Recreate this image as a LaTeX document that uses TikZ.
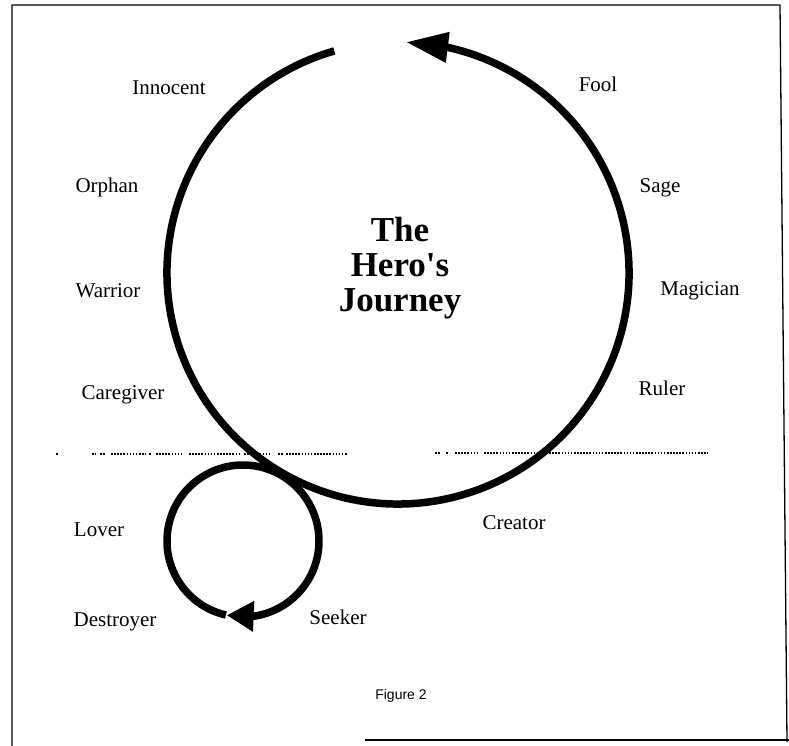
\documentclass[tikz,border=0pt]{standalone}
\usepackage{fontspec}
\setmainfont{Liberation Serif}
\newfontfamily\capfont{Liberation Sans}
\newfontfamily\titlefont{Liberation Serif}
\usetikzlibrary{arrows.meta,bending}
\begin{document}
\begin{tikzpicture}[x=1pt,y=1pt,
  loopline/.style={line width=7.5pt},
  lbl/.style={font=\fontsize{21}{24}\selectfont, inner sep=0pt, anchor=base},
  frameline/.style={line width=1.3pt},
  dotline/.style={line width=1.6pt, dash pattern=on 1.6pt off 1.5pt}]
\useasboundingbox (0,0) rectangle (789,746);
% frame
\draw[frameline] (12,0) -- (12,741) -- (780,741) -- (787,4);
\draw[frameline] (365,6) -- (789,6);
% dotted divider
\draw[dotline] (56,292) -- (58,292);
\foreach \a/\b in {92/96,100/106,111/146,149/152,156/181,189/240,244/270,278/283,286/348}
  \draw[dotline] (\a,292) -- (\b,292);
\foreach \a/\b in {435/441,446/449,455/478,484/708}
  \draw[dotline] (\a,293) -- (\b,293);
% circles
\coordinate (bigC) at (398,473);
\coordinate (smallC) at (243,205);
\draw[loopline, -{Triangle[length=42pt,width=29pt,flex]}]
  ([shift={(106:231)}]bigC) arc[start angle=106, end angle=448, radius=231];
\draw[loopline, -{Triangle[length=27pt,width=29pt,flex]}]
  ([shift={(617:76)}]smallC) arc[start angle=617, end angle=257.6, radius=76];
% title
\node[font=\titlefont\bfseries\fontsize{35}{35}\selectfont, align=center, inner sep=0pt] (title) at (400,478) {The\\Hero's\\Journey};
% labels
\node[lbl] (innocent) at (169,651) {Innocent};
\node[lbl] (fool) at (598,654) {Fool};
\node[lbl] (orphan) at (107,553) {Orphan};
\node[lbl] (sage) at (660,553) {Sage};
\node[lbl] (warrior) at (108,448) {Warrior};
\node[lbl] (magician) at (700,450) {Magician};
\node[lbl] (caregiver) at (123,346) {Caregiver};
\node[lbl] (ruler) at (662,350) {Ruler};
\node[lbl] (lover) at (99,209) {Lover};
\node[lbl] (creator) at (514,216) {Creator};
\node[lbl] (destroyer) at (115,119) {Destroyer};
\node[lbl] (seeker) at (338,121) {Seeker};
\node[font=\capfont\fontsize{14}{16}\selectfont, inner sep=0pt, anchor=base] (fig) at (401,46) {Figure 2};
\end{tikzpicture}
\end{document}
